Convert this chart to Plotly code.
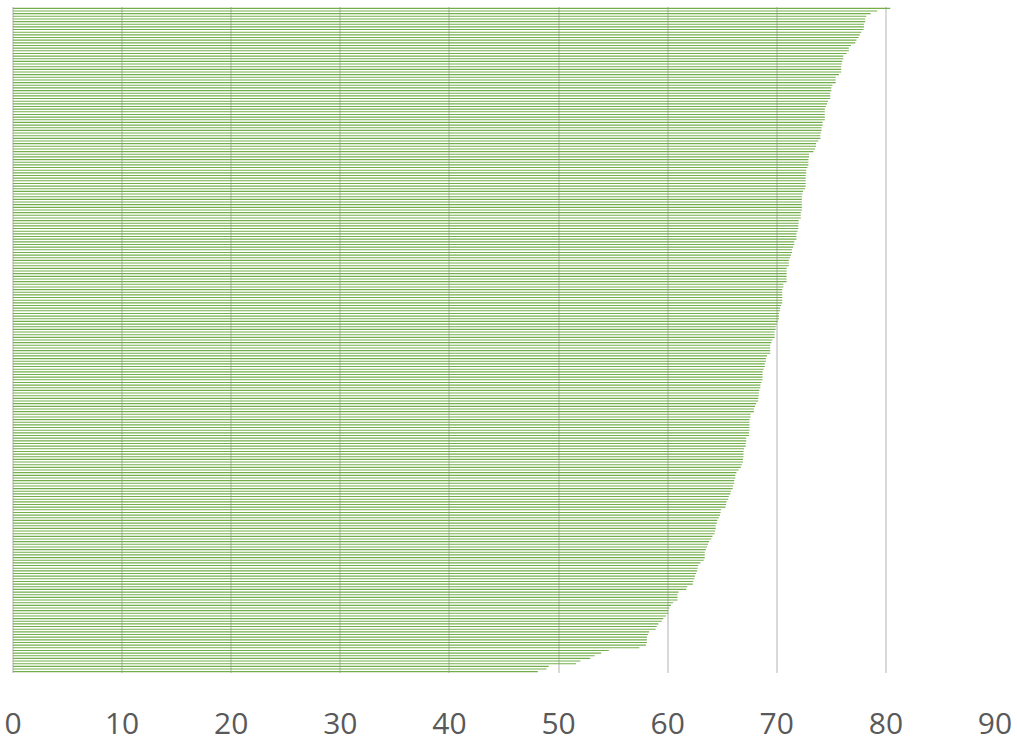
import plotly.graph_objects as go

# Scores ordered from the highest (top bar) to the lowest (bottom bar)
scores = [
    80.4, 79.2, 78.6, 78.2, 78.1, 78.1, 78.0, 78.0, 77.95, 77.75,
    77.6, 77.5, 77.3, 77.2, 76.8, 76.6, 76.6, 76.4, 76.1, 76.1,
    76.0, 75.95, 75.9, 75.9, 75.9, 75.7, 75.4, 75.4, 75.4, 75.1,
    75.0, 75.0, 74.9, 74.9, 74.9, 74.7, 74.6, 74.5, 74.4, 74.4,
    74.4, 74.4,
    74.4, 74.2, 74.2, 74.1, 74.1, 74.05, 74.0, 74.0, 73.8, 73.6,
    73.6, 73.5, 73.35, 72.95, 72.95, 72.9, 72.9, 72.9, 72.8, 72.7,
    72.7, 72.65, 72.65, 72.65, 72.65, 72.65, 72.6, 72.4, 72.35, 72.3,
    72.3, 72.3, 72.3, 72.3,
    72.3, 72.2, 72.2, 72.2, 72.0, 72.0, 71.97, 71.97, 71.9, 71.8,
    71.8, 71.8, 71.6, 71.6, 71.5, 71.4, 71.4, 71.3, 71.2, 71.1,
    71.1, 71.1, 70.9, 70.9, 70.9, 70.9, 70.9, 70.9, 70.6, 70.6,
    70.5, 70.5, 70.5, 70.5, 70.5, 70.5,
    70.4, 70.3, 70.3, 70.2, 70.2, 70.2, 70.1, 70.0, 69.9, 69.9,
    69.8, 69.8, 69.8, 69.6, 69.5, 69.4, 69.4, 69.4, 69.4, 69.1,
    69.0, 69.0, 68.9, 68.9, 68.8, 68.7, 68.7, 68.7,
    68.7, 68.6, 68.5, 68.5, 68.4, 68.35, 68.35, 68.3, 68.3, 68.1,
    68.0, 67.9, 67.9, 67.6, 67.6, 67.5, 67.5, 67.5, 67.5, 67.5,
    67.45, 67.45, 67.2, 67.2, 67.15, 67.15, 67.0, 66.95, 66.95, 66.95,
    66.9, 66.9, 66.8, 66.7, 66.5, 66.3, 66.2, 66.2, 66.1, 66.1,
    66.0, 65.95, 65.8, 65.75, 65.6, 65.55, 65.4, 65.35, 65.3, 64.9,
    64.85, 64.8, 64.7, 64.55, 64.5, 64.4, 64.4, 64.35, 64.3, 64.1,
    64.0, 63.8, 63.7, 63.6, 63.5, 63.4, 63.4, 63.4, 63.3, 63.0,
    62.8, 62.75, 62.7, 62.6, 62.5, 62.45, 62.35, 62.3, 61.8, 61.7,
    61.0, 60.9, 60.9,
    60.9, 60.5, 60.3, 60.15, 60.05, 60.05, 59.85, 59.6, 59.45, 59.15,
    59.0, 58.9, 58.3, 58.2, 58.1, 58.1, 58.1, 58.0, 57.4, 54.6,
    53.9, 53.3, 52.9, 52.0, 51.6, 49.1, 48.9, 48.1,
]

# Rank 1 is drawn at the top
ranks = list(range(1, len(scores) + 1))

x_ticks = [0, 10, 20, 30, 40, 50, 60, 70, 80, 90]

bar_green = "rgba(112,173,71,0.99)"
grid_grey = "#D9D9D9"
label_grey = "#595959"

fig = go.Figure(
    go.Bar(
        x=scores,
        y=ranks,
        orientation="h",
        marker=dict(color=bar_green, line=dict(width=0)),
        hovertemplate="%{x}<extra></extra>",
    )
)

fig.update_layout(
    width=1017,
    height=743,
    margin=dict(l=13, r=22, t=7, b=70, autoexpand=False),
    paper_bgcolor="white",
    plot_bgcolor="white",
    bargap=0.58,
    showlegend=False,
    font=dict(family="Open Sans, Noto Sans, sans-serif", color=label_grey),
)

fig.update_xaxes(
    range=[0, 90],
    automargin=False,
    tickmode="array",
    tickvals=x_ticks,
    ticktext=[str(t) for t in x_ticks],
    showgrid=True,
    gridcolor=grid_grey,
    gridwidth=1.5,
    zeroline=True,
    zerolinecolor=grid_grey,
    zerolinewidth=1.5,
    showline=False,
    ticks="",
    ticklabelstandoff=30,
    tickfont=dict(size=30, color=label_grey),
)

fig.update_yaxes(
    range=[len(scores) + 0.5, 0.5],
    automargin=False,
    showticklabels=False,
    showgrid=False,
    zeroline=False,
    showline=False,
    ticks="",
)

fig.write_html("out.html")
